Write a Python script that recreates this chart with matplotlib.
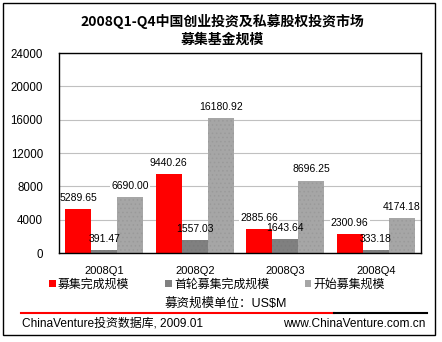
import matplotlib
matplotlib.use("Agg")
import matplotlib.pyplot as plt
import numpy as np
from matplotlib.patches import Rectangle, Patch
from matplotlib.lines import Line2D

# Fund-raising size by quarter (US$M)
quarters = ["2008Q1", "2008Q2", "2008Q3", "2008Q4"]
series_names = ["募集完成规模", "首轮募集完成规模", "开始募集规模"]
completed = [5289.65, 9440.26, 2885.66, 2300.96]
first_close = [391.47, 1557.03, 1643.64, 333.18]
launched = [6690.00, 16180.92, 8696.25, 4174.18]
y_ticks = [0, 4000, 8000, 12000, 16000, 20000, 24000]

FONT = ["Liberation Sans", "Noto Sans CJK SC", "DejaVu Sans"]
plt.rcParams["font.family"] = FONT
plt.rcParams["hatch.linewidth"] = 0.6

colors = ["#ff0000", "#808080", "#a6a6a6"]
hatch_colors = ["#ff0000", "#7a7a7a", "#9a9a9a"]
hatches = [None, "....", "...."]

fig = plt.figure(figsize=(4.42, 3.42), dpi=100)
ax = fig.add_axes([59 / 442, 89 / 342, 362 / 442, 200 / 342])

x = np.arange(len(quarters))
width = 0.2873
for i, (vals, name) in enumerate(zip([completed, first_close, launched], series_names)):
    pos = x + (i - 1) * width
    ax.bar(pos, vals, width=width, color=colors[i], edgecolor=hatch_colors[i],
           linewidth=0, hatch=hatches[i], zorder=2)
    for px, v in zip(pos, vals):
        label = f"{v:.2f}"
        # white box sits under the bars, the text goes on top
        ax.annotate(label, (px, v), xytext=(0, 8), textcoords="offset points",
                    ha="center", va="center", fontsize=7.5, color="white",
                    bbox=dict(boxstyle="square,pad=0.1", fc="white", ec="none"),
                    zorder=1)
        ax.annotate(label, (px, v), xytext=(0, 8), textcoords="offset points",
                    ha="center", va="center", fontsize=7.5, color="black",
                    zorder=5)

ax.set_xlim(-0.5, 3.5)
ax.set_ylim(0, 24000)
ax.set_yticks(y_ticks)
ax.set_yticklabels([str(t) for t in y_ticks], fontsize=8.3)
ax.set_xticks(x)
ax.set_xticklabels(quarters, fontsize=8)
ax.tick_params(axis="y", length=0, pad=11.5)
ax.tick_params(axis="x", length=0, pad=9)
ax.yaxis.grid(True, color="#c0c0c0", linewidth=0.8, zorder=0)
ax.set_axisbelow(True)
for s in ax.spines.values():
    s.set_color("black")
    s.set_linewidth(1.0)

# title
fig.text(0.503, 1 - 21 / 342, "2008Q1-Q4中国创业投资及私募股权投资市场",
         ha="center", va="center", fontsize=10, fontweight="bold",
         family=["Noto Sans CJK SC", "DejaVu Sans"])
fig.text(0.503, 1 - 39.5 / 342, "募集基金规模",
         ha="center", va="center", fontsize=10, fontweight="bold",
         family=["Noto Sans CJK SC", "DejaVu Sans"])

# legend
handles = [Patch(facecolor=c, edgecolor="none") for c in colors]
fig.legend(handles, series_names, loc="center", ncol=3,
           bbox_to_anchor=(217 / 442, 1 - 285 / 342), frameon=False,
           fontsize=8.6, handlelength=0.55, handleheight=0.55,
           handletextpad=0.2, columnspacing=3.0, borderpad=0, borderaxespad=0)

fig.text(226 / 442, 1 - 304 / 342, "募资规模单位：US\\$M", ha="center", va="center",
         fontsize=9)

# footer rule and source line
fig.add_artist(Line2D([21 / 442, 334 / 442], [1 - 313 / 342] * 2,
                      color="#ff0000", linewidth=1.5))
fig.add_artist(Line2D([334 / 442, 427 / 442], [1 - 313 / 342] * 2,
                      color="black", linewidth=1.5))
fig.text(22 / 442, 1 - 324 / 342, "ChinaVenture投资数据库, 2009.01",
         ha="left", va="center", fontsize=8.6)
fig.text(425 / 442, 1 - 324 / 342, "www.ChinaVenture.com.cn",
         ha="right", va="center", fontsize=8.6)

# outer frame
fig.add_artist(Rectangle((3 / 442, 7 / 342), 432 / 442, 332 / 342,
                         transform=fig.transFigure, fill=False,
                         edgecolor="black", linewidth=1.0))

fig.savefig("out.png", dpi=100)
